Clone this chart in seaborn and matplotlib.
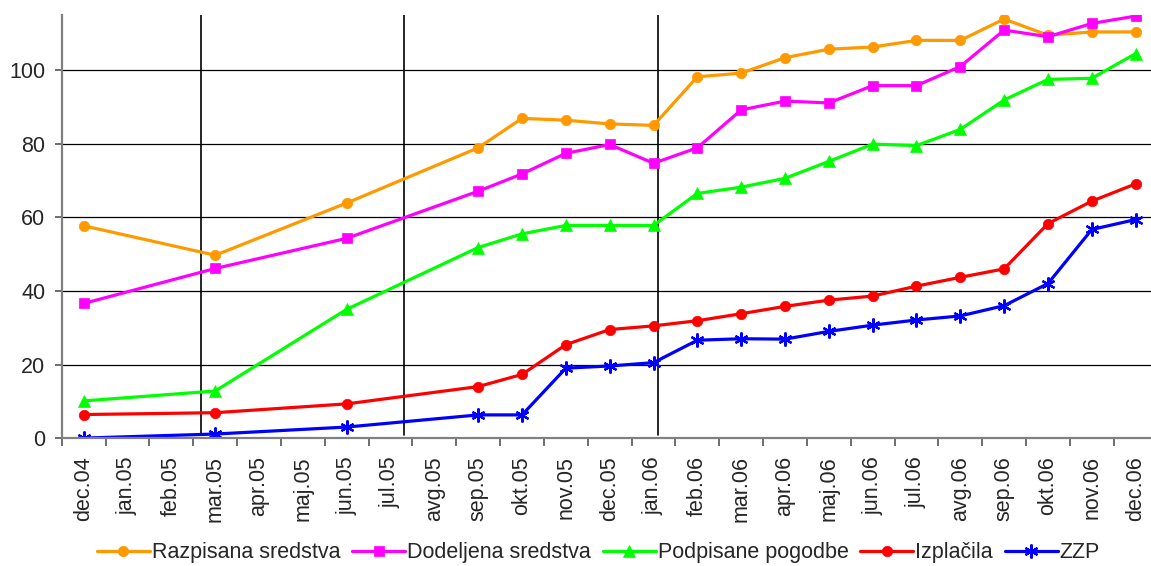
import pandas as pd
import matplotlib
matplotlib.use("Agg")
import matplotlib.pyplot as plt
import seaborn as sns

# all months on the category axis
months = ['dec.04', 'jan.05', 'feb.05', 'mar.05', 'apr.05', 'maj.05', 'jun.05',
          'jul.05', 'avg.05', 'sep.05', 'okt.05', 'nov.05', 'dec.05', 'jan.06',
          'feb.06', 'mar.06', 'apr.06', 'maj.06', 'jun.06', 'jul.06', 'avg.06',
          'sep.06', 'okt.06', 'nov.06', 'dec.06']

# months that have a value
data_months = ['dec.04', 'mar.05', 'jun.05', 'sep.05', 'okt.05', 'nov.05', 'dec.05',
               'jan.06', 'feb.06', 'mar.06', 'apr.06', 'maj.06', 'jun.06', 'jul.06',
               'avg.06', 'sep.06', 'okt.06', 'nov.06', 'dec.06']

razpisana = [57.7, 49.7, 63.9, 78.9, 86.9, 86.4, 85.4, 85.0, 98.2, 99.2,
             103.4, 105.7, 106.3, 108.1, 108.1, 113.9, 109.5, 110.4, 110.4]
dodeljena = [36.6, 46.1, 54.3, 67.1, 71.8, 77.4, 79.8, 74.7, 78.9, 89.2,
             91.6, 91.1, 95.8, 95.8, 101.0, 110.9, 109.1, 112.7, 114.7]
podpisane = [10.1, 12.8, 35.0, 51.8, 55.5, 57.8, 57.8, 57.8, 66.5, 68.2,
             70.6, 75.2, 79.9, 79.5, 83.9, 91.9, 97.5, 97.8, 104.5]
izplacila = [6.4, 6.9, 9.3, 14.0, 17.3, 25.4, 29.5, 30.5, 31.9, 33.8,
             35.8, 37.5, 38.6, 41.3, 43.7, 46.0, 58.3, 64.4, 69.1]
zzp = [0.0, 1.1, 3.0, 6.3, 6.3, 19.0, 19.6, 20.5, 26.6, 27.0,
       26.9, 29.0, 30.7, 32.1, 33.2, 36.0, 42.0, 56.7, 59.4]

series_names = ['Razpisana sredstva', 'Dodeljena sredstva', 'Podpisane pogodbe',
                'Izplačila', 'ZZP']
series_values = [razpisana, dodeljena, podpisane, izplacila, zzp]
colors = ['#FF9900', '#FF00FF', '#00FF00', '#FF0000', '#0000FF']
markers = ['o', 's', '^', 'o', (6, 2, 0)]
msizes = [7.5, 7.5, 8.5, 7.5, 10]

# vertical separator lines (category positions)
vline_pos = [2.68, 7.30, 13.11]

sns.set_style("white")
plt.rcParams['font.family'] = ['Liberation Sans', 'DejaVu Sans']

fig = plt.figure(figsize=(11.51, 5.66), dpi=100)
ax = fig.add_axes([0.0537, 0.226, 1.0057 - 0.0537, 0.7475])

for name, vals, c, m, ms in zip(series_names, series_values, colors, markers, msizes):
    d = pd.DataFrame({'pos': [months.index(x) for x in data_months], 'value': vals})
    sns.lineplot(data=d, x='pos', y='value', ax=ax, color=c, linewidth=2.3,
                 marker=m, markersize=ms, markeredgecolor=c,
                 markeredgewidth=1.6 if name == 'ZZP' else 0.5, label=name)

handles, labels = ax.get_legend_handles_labels()
if ax.get_legend() is not None:
    ax.get_legend().remove()

for xv in vline_pos:
    ax.axvline(xv, color='black', linewidth=1.2, ymin=0.008, zorder=1)

ax.set_xlim(-0.5, 24.5)
ax.set_ylim(0, 115)
ax.set_yticks([0, 20, 40, 60, 80, 100])
ax.yaxis.grid(True, color='black', linewidth=0.9)
ax.set_axisbelow(True)

ax.set_xticks(range(len(months)))
ax.set_xticklabels(months, rotation=90, fontsize=15.5)
ax.set_xticks([i + 0.5 for i in range(-1, len(months))], minor=True)
ax.tick_params(axis='x', which='major', length=0, pad=13)
ax.tick_params(axis='x', which='minor', length=6, color='#555555', width=1.2,
               direction='out', bottom=True)
ax.tick_params(axis='y', length=5, color='#555555', width=1.2, direction='out',
               left=True, labelsize=15.5, pad=7)
ax.set_xlabel('')
ax.set_ylabel('')

sns.despine(ax=ax, top=True, right=True)
for s in ['left', 'bottom']:
    ax.spines[s].set_color('#808080')
    ax.spines[s].set_linewidth(1.6)

fig.legend(handles, labels, loc='center', bbox_to_anchor=(0.52, 0.023), ncol=5,
           frameon=False, fontsize=15.5, handlelength=2.45, handletextpad=0.1,
           columnspacing=0.55, borderaxespad=0)

fig.savefig('out.png', dpi=100)
